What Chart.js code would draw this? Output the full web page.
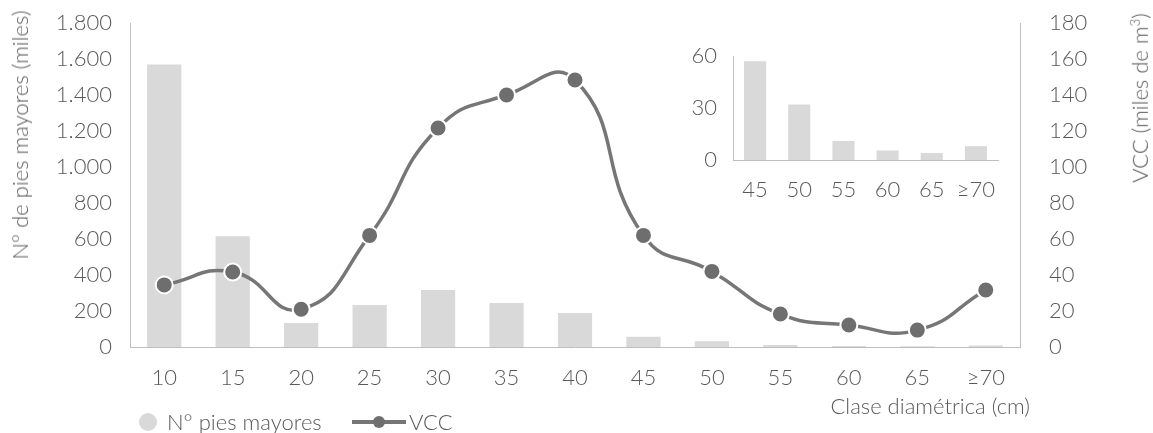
<!DOCTYPE html>
<html lang="es">
<head>
    <meta charset="UTF-8">
    <title>Clase diamétrica</title>
    <script src="https://cdn.jsdelivr.net/npm/chart.js"></script>
    <style>
        body {
            margin: 0;
            padding: 0;
            background: #fff;
            font-family: Lato, sans-serif;
            font-weight: 300;
            color: #595959;
        }
        .wrap {
            position: relative;
            width: 1153px;
            height: 433px;
            overflow: hidden;
        }
        #mainChart { position: absolute; left: 0; top: 0; }
        #insetChart { position: absolute; left: 680px; top: 40px; }
        .title {
            position: absolute;
            font-size: 22px;
            white-space: nowrap;
            line-height: 1;
        }
        .rot { transform: translate(-50%, -50%) rotate(-90deg); }
        .legend-item {
            position: absolute;
            top: 411px;
            font-size: 22px;
            line-height: 22px;
        }
        .dot {
            position: absolute;
            left: 139px;
            top: 413px;
            width: 18px;
            height: 18px;
            border-radius: 50%;
            background: #d9d9d9;
        }
        .line {
            position: absolute;
            left: 352px;
            top: 420px;
            width: 54px;
            height: 4px;
            background: #767676;
        }
        .line::after {
            content: '';
            position: absolute;
            left: 21px;
            top: -4px;
            width: 12px;
            height: 12px;
            border-radius: 50%;
            background: #6e6e6e;
        }
    </style>
</head>
<body>
<div class="wrap">
    <canvas id="mainChart" width="1153" height="433"></canvas>
    <canvas id="insetChart" width="340" height="170"></canvas>
    <div class="title rot" style="left:20px; top:135px;">N° de pies mayores (miles)</div>
    <div class="title rot" style="left:1140px; top:98px;">VCC (miles de m<sup style="font-size:13px">3</sup>)</div>
    <div class="title" style="right:123px; top:395px;">Clase diamétrica (cm)</div>
    <span class="dot"></span><span class="legend-item" style="left:167px;">N° pies mayores</span>
    <span class="line"></span><span class="legend-item" style="left:409px;">VCC</span>
</div>

<script>
    // diameter classes (cm)
    const classes = ['10', '15', '20', '25', '30', '35', '40', '45', '50', '55', '60', '65', '≥70'];
    // number of trees (thousands), left axis
    const nPies = [1570, 615, 133, 233, 317, 245, 189, 57, 32, 11, 5.5, 4, 8];
    // VCC (thousand m3), right axis
    const vcc = [34.5, 41.7, 21, 62, 121.7, 140, 148.3, 62, 42, 18.3, 12.2, 9.4, 31.7];

    // inset: large classes detail
    const insetClasses = ['45', '50', '55', '60', '65', '≥70'];
    const insetPies = [57, 32, 11, 5.5, 4, 8];

    const textColor = '#595959';
    const axisColor = '#bfbfbf';
    const tickFont = { family: 'Lato', size: 22, weight: '300' };

    Chart.defaults.devicePixelRatio = 1;

    const milesFmt = v => v.toLocaleString('de-DE');

    // fixed axis sizes so the plot area sits where the original does
    const fixY = w => s => { s.width = w; s.paddingTop = 12; s.paddingBottom = 12; };

    new Chart(document.getElementById('mainChart'), {
        type: 'bar',
        data: {
            labels: classes,
            datasets: [
                {
                    type: 'line',
                    label: 'VCC',
                    data: vcc,
                    yAxisID: 'y1',
                    order: 0,
                    borderColor: '#767676',
                    borderWidth: 3.5,
                    tension: 0.5,
                    pointRadius: 8.5,
                    pointBackgroundColor: '#6e6e6e',
                    pointBorderColor: '#ffffff',
                    pointBorderWidth: 2
                },
                {
                    label: 'N° pies mayores',
                    data: nPies,
                    yAxisID: 'y',
                    order: 1,
                    backgroundColor: '#d9d9d9',
                    barPercentage: 0.5,
                    categoryPercentage: 1
                }
            ]
        },
        options: {
            responsive: false,
            animation: false,
            layout: { padding: { top: 23, bottom: 18 } },
            plugins: { legend: { display: false }, tooltip: { enabled: false } },
            scales: {
                x: {
                    grid: { display: false },
                    border: { color: axisColor },
                    ticks: { font: tickFont, color: textColor, padding: 10, maxRotation: 0, autoSkip: false },
                    afterFit: s => { s.height = 68; }
                },
                y: {
                    position: 'left',
                    min: 0,
                    max: 1800,
                    grid: { display: false },
                    border: { color: axisColor },
                    ticks: { stepSize: 200, font: tickFont, color: textColor, padding: 10, callback: milesFmt },
                    afterFit: fixY(130)
                },
                y1: {
                    position: 'right',
                    min: 0,
                    max: 180,
                    grid: { display: false },
                    border: { color: axisColor },
                    ticks: { stepSize: 20, font: tickFont, color: textColor, padding: 21 },
                    afterFit: fixY(133)
                }
            }
        }
    });

    new Chart(document.getElementById('insetChart'), {
        type: 'bar',
        data: {
            labels: insetClasses,
            datasets: [{
                label: 'N° pies mayores',
                data: insetPies,
                backgroundColor: '#d9d9d9',
                barPercentage: 0.5,
                categoryPercentage: 1
            }]
        },
        options: {
            responsive: false,
            animation: false,
            layout: { padding: { top: 16, right: 22 } },
            plugins: { legend: { display: false }, tooltip: { enabled: false } },
            scales: {
                x: {
                    grid: { display: false },
                    border: { color: axisColor },
                    ticks: { font: tickFont, color: textColor, padding: 9, maxRotation: 0, minRotation: 0, autoSkip: false },
                    afterFit: s => { s.height = 50; }
                },
                y: {
                    min: 0,
                    max: 60,
                    grid: { display: false },
                    border: { color: axisColor },
                    ticks: { stepSize: 30, font: tickFont, color: textColor, padding: 8 },
                    afterFit: fixY(53)
                }
            }
        }
    });
</script>
</body>
</html>
